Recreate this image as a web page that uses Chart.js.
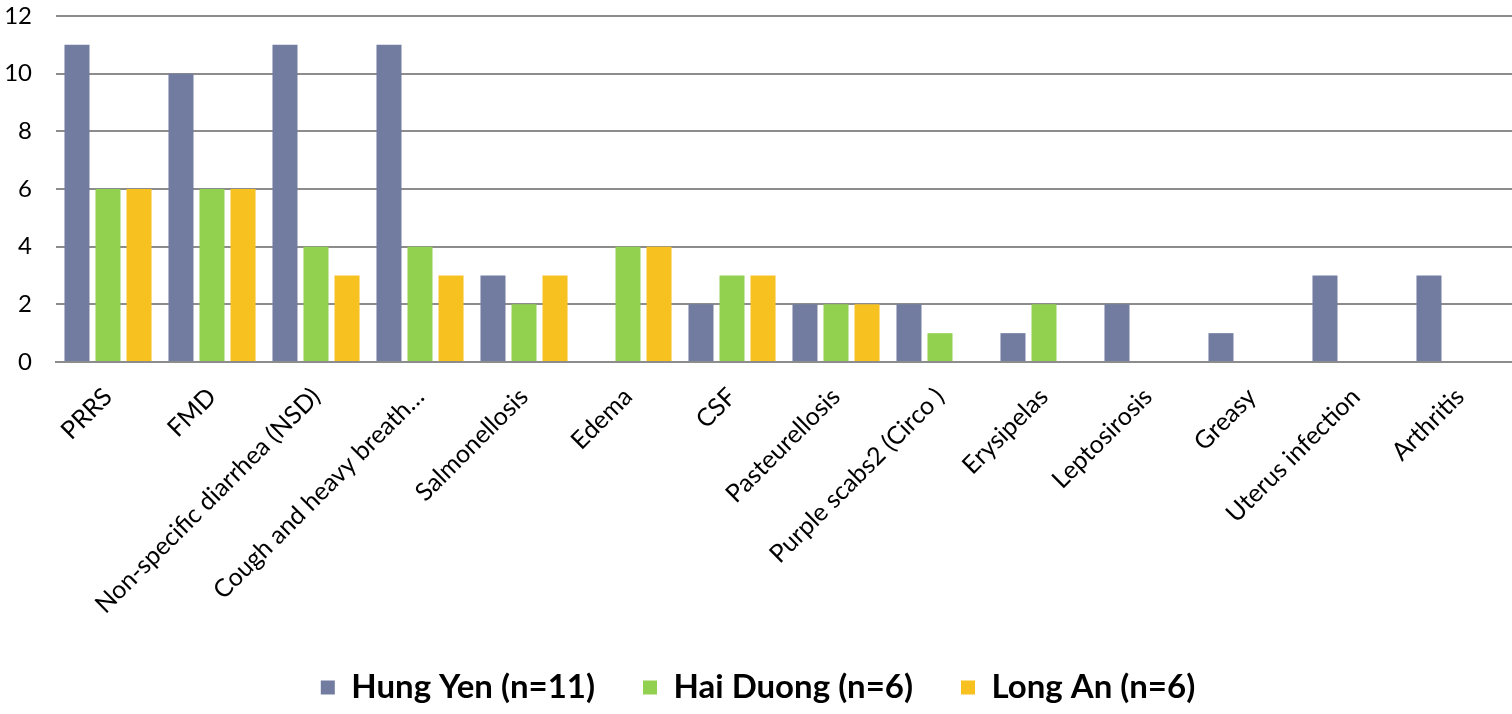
<!DOCTYPE html>
<html>
<head>
<meta charset="utf-8">
<script src="https://cdn.jsdelivr.net/npm/chart.js@4/dist/chart.umd.min.js"></script>
<style>
  html, body { margin: 0; padding: 0; background: #fff; }
  #wrap { width: 1512px; height: 714px; }
</style>
</head>
<body>
<div id="wrap"><canvas id="diseaseChart" width="1512" height="714"></canvas></div>
<script>
const diseases = [
  'PRRS', 'FMD', 'Non-specific diarrhea (NSD)', 'Cough and heavy breath…',
  'Salmonellosis', 'Edema', 'CSF', 'Pasteurellosis', 'Purple scabs2 (Circo )',
  'Erysipelas', 'Leptosirosis', 'Greasy', 'Uterus infection', 'Arthritis'
];
const hungYen   = [11, 10, 11, 11, 3, 0, 2, 2, 2, 1, 2, 1, 3, 3];
const haiDuong  = [6, 6, 4, 4, 2, 4, 3, 2, 1, 2, 0, 0, 0, 0];
const longAn    = [6, 6, 3, 3, 3, 4, 3, 2, 0, 0, 0, 0, 0, 0];
const yTicks    = [0, 2, 4, 6, 8, 10, 12];

const seriesNames = ['Hung Yen (n=11)', 'Hai Duong (n=6)', 'Long An (n=6)'];
const seriesColors = ['#727BA0', '#92D050', '#F7C120'];

const fontFamily = 'Lato, "Open Sans", sans-serif';

const ctx = document.getElementById('diseaseChart').getContext('2d');
new Chart(ctx, {
  type: 'bar',
  data: {
    labels: diseases,
    datasets: [hungYen, haiDuong, longAn].map((values, i) => ({
      label: seriesNames[i],
      data: values,
      backgroundColor: seriesColors[i],
      borderWidth: 0,
      categoryPercentage: 0.895,
      barPercentage: 0.806
    }))
  },
  options: {
    responsive: false,
    animation: false,
    layout: { padding: { left: 4, right: 0, top: 0, bottom: 0 } },
    scales: {
      x: {
        grid: { display: false },
        border: { color: '#8c8c8c', width: 2 },
        ticks: {
          color: '#000',
          font: { family: fontFamily, size: 25 },
          maxRotation: 45,
          minRotation: 45,
          autoSkip: false,
          padding: 12
        },
        // rotated labels stay inside the plot width, no extra side padding needed
        afterFit: scale => {
          scale.paddingLeft = 0;
          scale.paddingRight = 0;
          scale.height = 261;
        }
      },
      y: {
        min: 0,
        max: 12,
        afterBuildTicks: axis => {
          axis.ticks = yTicks.map(v => ({ value: v }));
        },
        afterFit: scale => {
          scale.paddingTop = 16;
          scale.width = 52;
        },
        grid: { color: '#8c8c8c', lineWidth: 2, drawTicks: false },
        border: { display: false },
        ticks: {
          color: '#000',
          font: { family: fontFamily, size: 24 },
          padding: 24
        }
      }
    },
    plugins: {
      legend: {
        position: 'bottom',
        labels: {
          color: '#000',
          font: { family: fontFamily, size: 33, weight: 'bold' },
          boxWidth: 14,
          boxHeight: 14,
          padding: 48
        }
      },
      tooltip: { enabled: false }
    }
  }
});
</script>
</body>
</html>
